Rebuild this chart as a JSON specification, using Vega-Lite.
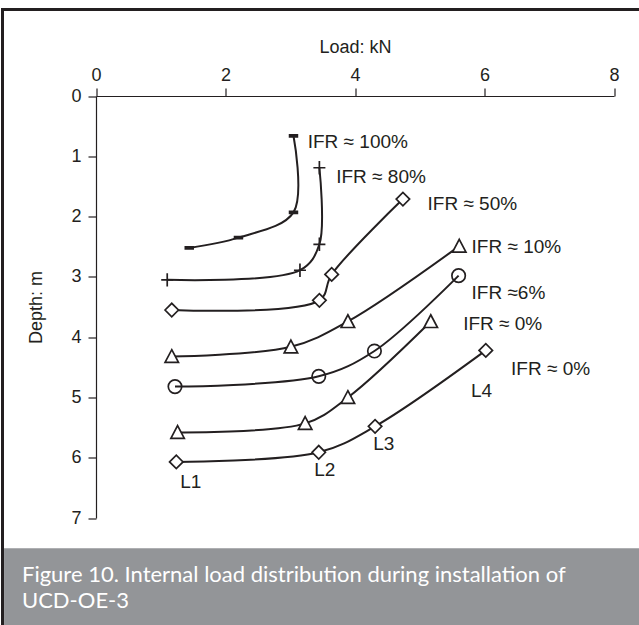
{
  "$schema": "https://vega.github.io/schema/vega-lite/v6.json",
  "width": 640,
  "height": 620,
  "autosize": {"type": "none"},
  "padding": {"left": 2.5, "top": 9.5, "right": -3.5, "bottom": -4.5},
  "background": "white",
  "config": {
    "view": {"stroke": "#231f20", "strokeWidth": 3, "fill": "white"},
    "font": "Liberation Sans"
  },
  "datasets": {
    "curves": [
      {"series": "100", "i": 0, "load": 3.05, "depth": 0.66},
      {"series": "100", "i": 1, "load": 3.05, "depth": 1.93},
      {"series": "100", "i": 2, "load": 2.20, "depth": 2.35},
      {"series": "100", "i": 3, "load": 1.44, "depth": 2.52},
      {"series": "80", "i": 0, "load": 3.45, "depth": 1.19},
      {"series": "80", "i": 1, "load": 3.45, "depth": 2.46},
      {"series": "80", "i": 2, "load": 3.15, "depth": 2.89},
      {"series": "80", "i": 3, "load": 1.10, "depth": 3.05},
      {"series": "50", "i": 0, "load": 4.74, "depth": 1.71},
      {"series": "50", "i": 1, "load": 3.64, "depth": 2.96},
      {"series": "50", "i": 2, "load": 3.45, "depth": 3.39},
      {"series": "50", "i": 3, "load": 1.17, "depth": 3.55},
      {"series": "10", "i": 0, "load": 5.61, "depth": 2.49},
      {"series": "10", "i": 1, "load": 3.89, "depth": 3.74},
      {"series": "10", "i": 2, "load": 3.01, "depth": 4.16},
      {"series": "10", "i": 3, "load": 1.17, "depth": 4.32},
      {"series": "6", "i": 0, "load": 5.60, "depth": 2.98},
      {"series": "6", "i": 1, "load": 4.30, "depth": 4.23},
      {"series": "6", "i": 2, "load": 3.44, "depth": 4.65},
      {"series": "6", "i": 3, "load": 1.22, "depth": 4.82},
      {"series": "0a", "i": 0, "load": 5.17, "depth": 3.74},
      {"series": "0a", "i": 1, "load": 3.89, "depth": 5.00},
      {"series": "0a", "i": 2, "load": 3.23, "depth": 5.43},
      {"series": "0a", "i": 3, "load": 1.26, "depth": 5.58},
      {"series": "0b", "i": 0, "load": 6.02, "depth": 4.22},
      {"series": "0b", "i": 1, "load": 4.31, "depth": 5.48},
      {"series": "0b", "i": 2, "load": 3.44, "depth": 5.91},
      {"series": "0b", "i": 3, "load": 1.24, "depth": 6.07}
    ],
    "labels": [
      {"label": "IFR ≈ 100%", "load": 3.27, "depth": 0.76},
      {"label": "IFR ≈ 80%", "load": 3.71, "depth": 1.34},
      {"label": "IFR ≈ 50%", "load": 5.12, "depth": 1.79},
      {"label": "IFR ≈ 10%", "load": 5.80, "depth": 2.50},
      {"label": "IFR  ≈6%", "load": 5.80, "depth": 3.26},
      {"label": "IFR ≈ 0%", "load": 5.67, "depth": 3.79},
      {"label": "IFR ≈ 0%", "load": 6.41, "depth": 4.53},
      {"label": "L4", "load": 5.79, "depth": 4.89},
      {"label": "L3", "load": 4.28, "depth": 5.77},
      {"label": "L2", "load": 3.37, "depth": 6.20},
      {"label": "L1", "load": 1.30, "depth": 6.41}
    ],
    "caption": [
      {"line": "Figure 10. Internal load distribution during installation of", "load": -1.143, "depth": 8.057},
      {"line": "UCD-OE-3", "load": -1.143, "depth": 8.498}
    ],
    "panel": [
      {"x0": -1.42, "x1": 9.6, "y0": 7.503, "y1": 8.9}
    ]
  },
  "encoding": {
    "x": {
      "type": "quantitative",
      "scale": {"domain": [0, 8], "range": [93.5, 611.5], "nice": false, "zero": false},
      "axis": {
        "orient": "top", "offset": -86.5, "values": [0, 2, 4, 6, 8], "title": "Load: kN",
        "grid": false, "tickSize": 8, "labelPadding": 4, "titlePadding": 10,
        "domainColor": "#231f20", "tickColor": "#231f20", "domainWidth": 1.2, "tickWidth": 1.2,
        "labelColor": "#231f20", "titleColor": "#231f20",
        "labelFont": "Liberation Sans", "titleFont": "Liberation Sans",
        "labelFontSize": 18, "titleFontSize": 18, "titleFontWeight": "normal", "labelFlush": false
      }
    },
    "y": {
      "type": "quantitative",
      "scale": {"domain": [0, 7], "range": [86.5, 508.5], "nice": false, "zero": false},
      "axis": {
        "orient": "left", "offset": -93.5, "values": [0, 1, 2, 3, 4, 5, 6, 7], "title": "Depth: m",
        "grid": false, "tickSize": 8, "labelPadding": 7, "titlePadding": 25,
        "domainColor": "#231f20", "tickColor": "#231f20", "domainWidth": 1.2, "tickWidth": 1.2,
        "labelColor": "#231f20", "titleColor": "#231f20",
        "labelFont": "Liberation Sans", "titleFont": "Liberation Sans",
        "labelFontSize": 18, "titleFontSize": 18, "titleFontWeight": "normal", "labelFlush": false
      }
    }
  },
  "layer": [
    {
      "data": {"name": "panel"},
      "mark": {"type": "rect", "fill": "#939598", "clip": true},
      "encoding": {
        "x": {"field": "x0"},
        "x2": {"field": "x1"},
        "y": {"field": "y0"},
        "y2": {"field": "y1"}
      }
    },
    {
      "data": {"name": "caption"},
      "mark": {"type": "text", "align": "left", "baseline": "alphabetic", "font": "Lato", "fontSize": 22, "color": "white"},
      "encoding": {
        "x": {"field": "load"},
        "y": {"field": "depth"},
        "text": {"field": "line"}
      }
    },
    {
      "data": {"name": "curves"},
      "mark": {"type": "line", "interpolate": "catmull-rom", "stroke": "#231f20", "strokeWidth": 2},
      "encoding": {
        "x": {"field": "load"},
        "y": {"field": "depth"},
        "detail": {"field": "series"},
        "order": {"field": "i", "type": "quantitative"}
      }
    },
    {
      "data": {"name": "curves"},
      "mark": {"type": "point", "filled": false, "stroke": "#231f20", "strokeWidth": 1.7, "size": 200, "opacity": 1},
      "encoding": {
        "x": {"field": "load"},
        "y": {"field": "depth"},
        "shape": {
          "field": "series", "type": "nominal", "legend": null,
          "scale": {
            "domain": ["100", "80", "50", "10", "6", "0a", "0b"],
            "range": [
              "M-0.55,-0.15H0.55V0.15H-0.55Z",
              "M-0.85,0H0.85M0,-0.95V0.95",
              "M-0.95,0L0,-0.95L0.95,0L0,0.95Z",
              "M0,-0.95L0.95,0.85L-0.95,0.85Z",
              "M0.95,0A0.95,0.95,0,1,1,-0.95,0A0.95,0.95,0,1,1,0.95,0Z",
              "M0,-0.95L0.95,0.85L-0.95,0.85Z",
              "M-0.95,0L0,-0.95L0.95,0L0,0.95Z"
            ]
          }
        },
        "fill": {
          "field": "series", "type": "nominal", "legend": null,
          "scale": {
            "domain": ["100", "80", "50", "10", "6", "0a", "0b"],
            "range": ["#231f20", "transparent", "white", "white", "transparent", "white", "white"]
          }
        }
      }
    },
    {
      "data": {"name": "labels"},
      "mark": {"type": "text", "align": "left", "baseline": "middle", "font": "Liberation Sans", "fontSize": 19, "color": "#231f20"},
      "encoding": {
        "x": {"field": "load"},
        "y": {"field": "depth"},
        "text": {"field": "label"}
      }
    }
  ]
}
